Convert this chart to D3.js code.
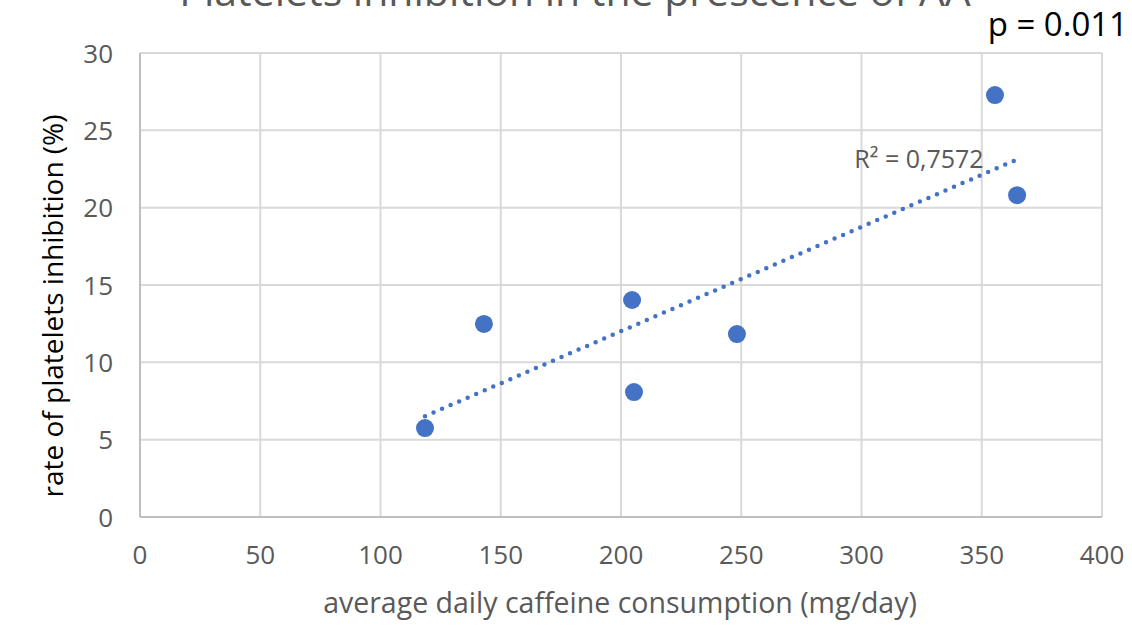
<!DOCTYPE html>
<html>
<head>
<meta charset="utf-8">
<script src="https://cdn.jsdelivr.net/npm/d3@7"></script>
<style>
  body { margin: 0; background: #fff; }
  text { font-family: "Open Sans", "Liberation Sans", sans-serif; }
</style>
</head>
<body>
<div class="chart"></div>
<script>
// data
let caffeine = [118.5, 143.0, 204.6, 205.4, 248.2, 355.5, 364.7];
let inhibition = [5.75, 12.48, 14.03, 8.08, 11.83, 27.28, 20.81];
let xTicks = [0, 50, 100, 150, 200, 250, 300, 350, 400];
let yTicks = [0, 5, 10, 15, 20, 25, 30];

let outWidth = 1132, outHeight = 629;
let margin = {top: 53, right: 30, left: 140, bottom: 112};
let width = outWidth - margin.left - margin.right,
    height = outHeight - margin.top - margin.bottom;

const svg = d3.select('.chart').append('svg')
    .attr("width", outWidth)
    .attr("height", outHeight);

const g = svg.append("g")
    .attr("transform", `translate(${margin.left}, ${margin.top})`);

let x = d3.scaleLinear().domain([0, 400]).range([0, width]);
let y = d3.scaleLinear().domain([0, 30]).range([height, 0]);

// gridlines
g.selectAll(".vgrid")
    .data(xTicks.slice(1))
    .join("line")
    .attr("x1", d => x(d)).attr("x2", d => x(d))
    .attr("y1", 0).attr("y2", height)
    .attr("stroke", "#d9d9d9").attr("stroke-width", 2);
g.selectAll(".hgrid")
    .data(yTicks.slice(1))
    .join("line")
    .attr("x1", 0).attr("x2", width)
    .attr("y1", d => y(d)).attr("y2", d => y(d))
    .attr("stroke", "#d9d9d9").attr("stroke-width", 2);

// axes lines
g.append("line").attr("x1", 0).attr("x2", width).attr("y1", height).attr("y2", height)
    .attr("stroke", "#bfbfbf").attr("stroke-width", 2);
g.append("line").attr("x1", 0).attr("x2", 0).attr("y1", 0).attr("y2", height)
    .attr("stroke", "#bfbfbf").attr("stroke-width", 2);

// tick labels
g.selectAll(".xlab")
    .data(xTicks)
    .join("text")
    .attr("x", d => x(d))
    .attr("y", height + 47)
    .attr("text-anchor", "middle")
    .attr("font-size", 26)
    .attr("fill", "#595959")
    .text(d => d);
g.selectAll(".ylab")
    .data(yTicks)
    .join("text")
    .attr("x", -27)
    .attr("y", d => y(d) + 9.5)
    .attr("text-anchor", "end")
    .attr("font-size", 26)
    .attr("fill", "#595959")
    .text(d => d);

// axis titles
svg.append("text")
    .attr("x", 620)
    .attr("y", 613)
    .attr("text-anchor", "middle")
    .attr("font-size", 28.5)
    .attr("fill", "#595959")
    .text("average daily caffeine consumption (mg/day)");
svg.append("text")
    .attr("transform", "translate(63, 306) rotate(-90)")
    .attr("text-anchor", "middle")
    .attr("font-size", 28)
    .attr("fill", "#000")
    .text("rate of platelets inhibition (%)");

// title, cut off by top edge
svg.append("text")
    .attr("x", 575)
    .attr("y", 6)
    .attr("text-anchor", "middle")
    .attr("font-size", 41)
    .attr("fill", "#595959")
    .text("Platelets inhibition in the prescence of AA");

svg.append("text")
    .attr("x", 1128)
    .attr("y", 36)
    .attr("text-anchor", "end")
    .attr("font-size", 33)
    .attr("fill", "#000")
    .text("p = 0.011");

// linear trendline
let mx = d3.mean(caffeine), my = d3.mean(inhibition);
let slope = d3.sum(caffeine, (d, i) => (d - mx) * (inhibition[i] - my)) /
            d3.sum(caffeine, d => (d - mx) * (d - mx));
let icpt = my - slope * mx;
let [x0, x1] = d3.extent(caffeine);
g.append("line")
    .attr("x1", x(x0)).attr("y1", y(icpt + slope * x0))
    .attr("x2", x(x1)).attr("y2", y(icpt + slope * x1))
    .attr("stroke", "#4472c4")
    .attr("stroke-width", 4.5)
    .attr("stroke-linecap", "round")
    .attr("stroke-dasharray", "0 9.3");

g.append("text")
    .attr("x", x(297))
    .attr("y", y(22.56))
    .attr("font-size", 25)
    .attr("fill", "#595959")
    .text("R² = 0,7572");

// points
g.selectAll("circle")
    .data(caffeine)
    .join("circle")
    .attr("cx", d => x(d))
    .attr("cy", (d, i) => y(inhibition[i]))
    .attr("r", 9)
    .attr("fill", "#4472c4");
</script>
</body>
</html>
